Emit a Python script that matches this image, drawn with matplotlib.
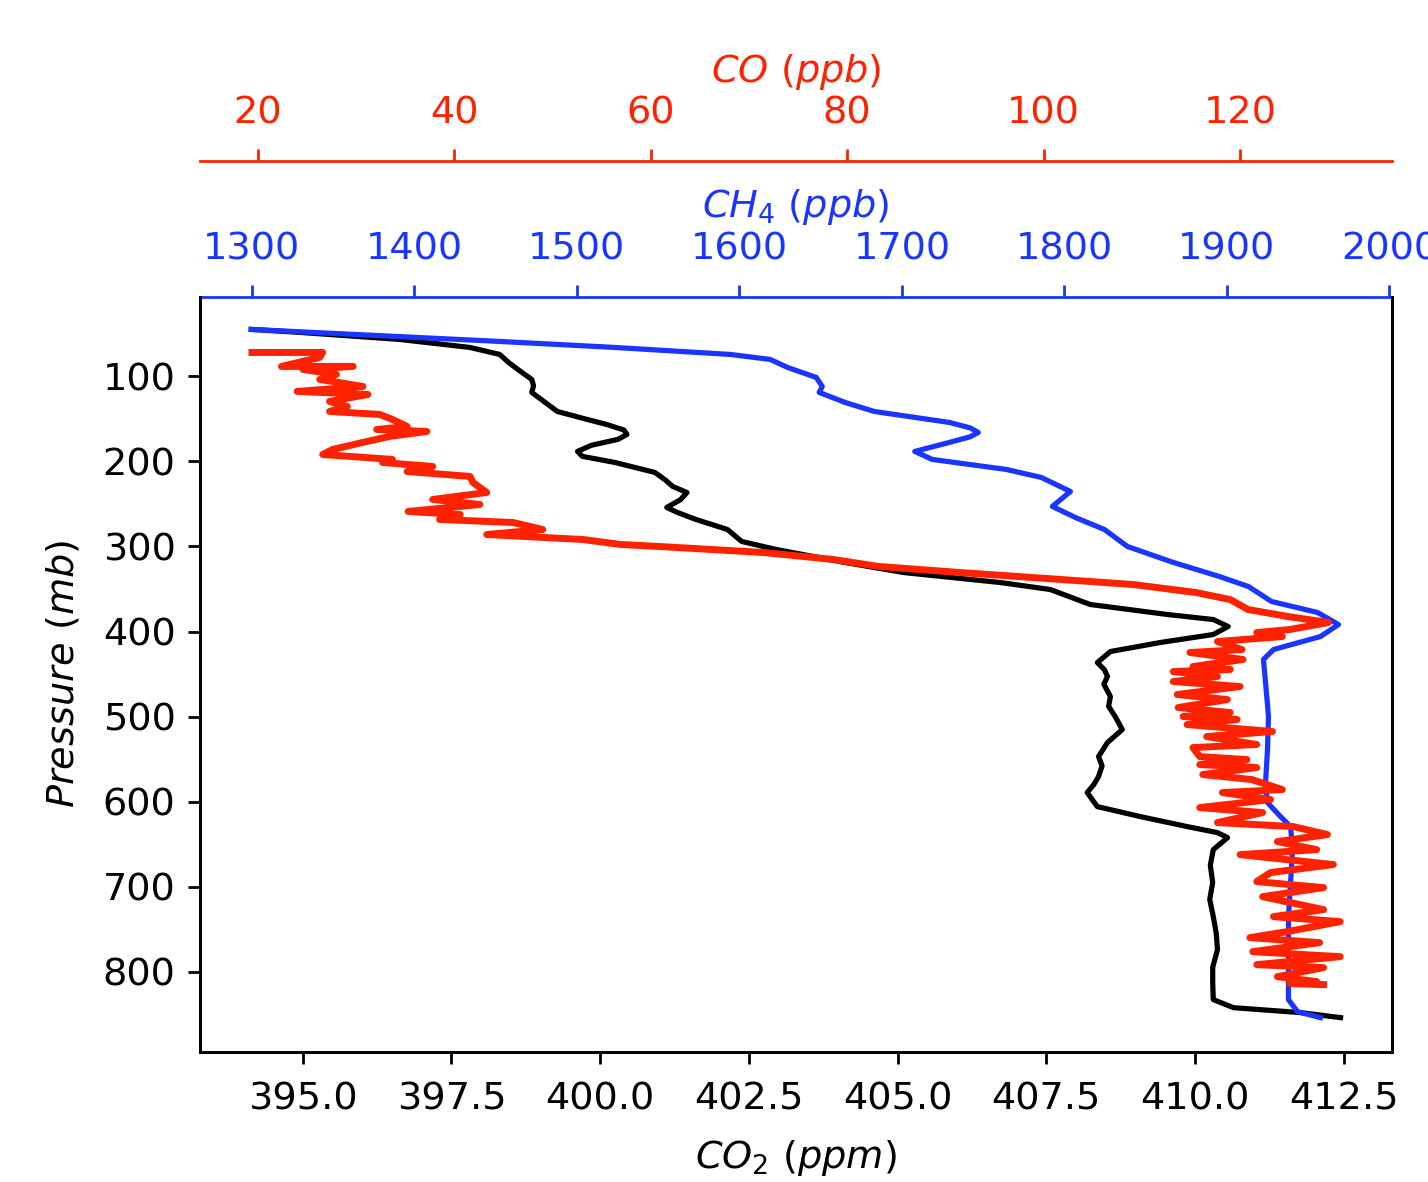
import matplotlib
matplotlib.use("Agg")
import matplotlib.pyplot as plt

# CO2 profile (ppm) vs pressure (mb)
co2 = [394.14, 394.95, 396.63, 397.81, 398.31, 398.46, 398.62, 398.85, 398.88, 398.85,
       399.28, 399.75, 400.11, 400.40, 400.45, 400.30, 399.85, 399.62, 399.70, 400.25,
       400.92, 401.10, 401.22, 401.46, 401.35, 401.12, 401.30, 401.61, 402.14, 402.38,
       402.96, 404.12, 405.10, 406.73, 407.57, 408.24, 409.54, 410.31, 410.56, 410.31,
       409.42, 408.58, 408.36, 408.48, 408.53, 408.47, 408.58, 408.55, 408.66, 408.78,
       408.53, 408.38, 408.44, 408.38, 408.30, 408.19, 408.36, 409.08, 409.87, 410.38,
       410.55, 410.31, 410.26, 410.30, 410.25, 410.31, 410.36, 410.38, 410.30, 410.30,
       410.31, 410.65, 411.78, 412.45]
p_co2 = [44.7, 48.2, 56.5, 65.9, 74.1, 83.5, 92.0, 103.5, 111.0, 118.8,
         141.2, 150.0, 156.5, 163.0, 168.2, 174.0, 181.0, 188.2, 194.0, 201.2,
         212.9, 222.0, 229.4, 236.5, 245.0, 254.1, 260.0, 268.2, 280.0, 294.1,
         303.5, 318.8, 330.6, 342.4, 350.6, 368.2, 380.0, 385.9, 394.1, 403.5,
         412.9, 423.5, 436.5, 445.0, 452.9, 462.0, 476.5, 488.0, 500.0, 515.3,
         530.6, 547.1, 558.0, 570.6, 580.0, 589.4, 605.9, 617.6, 629.4, 636.5,
         642.4, 656.5, 675.0, 695.3, 715.0, 735.3, 755.0, 774.1, 795.0, 812.9,
         832.9, 842.4, 848.2, 854.1]

# CH4 profile (ppb)
ch4 = [1299.4, 1452.1, 1523.3, 1594.2, 1619.0, 1629.6, 1647.3, 1651.0, 1649.1, 1665.1,
       1683.0, 1729.2, 1742.0, 1747.0, 1742.0, 1729.2, 1707.9, 1718.7, 1764.3, 1785.8,
       1803.7, 1792.6, 1806.8, 1824.6, 1838.8, 1867.1, 1895.4, 1913.3, 1927.5, 1955.8,
       1968.7, 1957.6, 1928.7, 1922.5, 1923.8, 1925.6, 1925.0, 1923.8, 1925.0, 1933.0,
       1939.2, 1940.4, 1939.2, 1937.9, 1937.9, 1937.9, 1943.5, 1957.6]
p_ch4 = [44.7, 58.8, 65.9, 74.1, 80.0, 89.4, 101.2, 111.8, 118.8, 130.6,
         141.2, 154.1, 160.5, 165.9, 171.0, 177.6, 188.2, 197.6, 209.4, 218.8,
         235.3, 252.9, 265.9, 280.0, 300.0, 318.8, 335.3, 347.1, 364.7, 377.6,
         391.8, 405.9, 421.2, 432.9, 460.0, 500.0, 538.8, 577.6, 601.2, 617.6,
         629.4, 656.5, 695.3, 735.3, 774.1, 832.9, 847.1, 854.1]

# CO profile (ppb)
co = [19.4, 26.6, 26.3, 22.4, 29.7, 24.6, 28.0, 26.3, 30.7, 24.0,
      31.2, 27.3, 29.1, 27.3, 32.4, 33.7, 35.2, 32.1, 37.2, 33.4,
      30.7, 27.6, 26.6, 29.4, 33.7, 32.7, 37.8, 35.2, 41.6, 41.9,
      43.3, 37.8, 42.6, 35.3, 40.6, 38.5, 46.0, 49.0, 43.3, 53.1,
      56.9, 60.9, 71.5, 78.6, 83.2, 91.5, 97.4, 109.1, 115.5, 119.0,
      120.8, 124.9, 129.0, 125.1, 121.7, 124.3, 117.7, 120.2, 114.9, 120.3,
      115.2, 119.0, 113.2, 117.7, 113.2, 120.0, 113.6, 118.7, 113.7, 119.0,
      114.2, 119.7, 114.6, 123.3, 116.6, 121.7, 115.2, 115.9, 120.7, 115.9,
      121.7, 116.2, 121.2, 124.3, 118.2, 123.1, 115.9, 122.3, 117.7, 125.4,
      128.9, 123.8, 127.8, 120.0, 129.5, 123.1, 121.7, 128.5, 122.3, 128.5,
      123.4, 130.2, 124.8, 121.0, 128.1, 121.3, 130.2, 121.7, 128.5, 123.8,
      127.8, 125.1, 128.5]
p_co = [71.8, 71.8, 77.6, 88.2, 88.2, 91.8, 97.6, 103.5, 111.8, 117.6,
        121.2, 129.4, 135.3, 141.2, 144.7, 150.6, 158.8, 162.4, 164.7, 170.6,
        177.6, 185.9, 191.8, 194.1, 197.6, 201.2, 205.9, 211.8, 217.6, 224.7,
        236.5, 244.7, 250.6, 258.8, 262.4, 268.2, 271.8, 280.0, 285.9, 291.8,
        297.6, 300.0, 307.1, 315.3, 323.5, 330.6, 335.3, 344.7, 354.1, 362.4,
        374.1, 382.4, 389.4, 397.6, 401.2, 405.9, 411.8, 421.2, 424.7, 432.9,
        441.2, 444.7, 447.1, 452.9, 458.8, 464.7, 474.1, 480.0, 489.4, 495.3,
        500.0, 503.5, 509.4, 517.6, 523.5, 532.9, 536.5, 547.1, 550.6, 556.5,
        560.0, 568.2, 574.1, 585.9, 589.4, 597.6, 607.1, 612.9, 624.7, 629.4,
        638.8, 647.1, 656.5, 662.4, 674.1, 683.5, 694.1, 701.2, 711.8, 727.1,
        735.3, 741.2, 752.9, 760.0, 765.9, 776.5, 782.4, 791.8, 795.3, 805.9,
        811.8, 814.1, 815.3]

red = '#ff2200'
blue = '#1a35ff'

plt.rcParams['font.size'] = 11

fig = plt.figure(figsize=(1428 / 250, 1182 / 250), dpi=250)
ax = fig.add_axes([0.140, 0.110, 0.835, 0.639])
ax.plot(co2, p_co2, color='black', lw=1.5)
ax.set_xlim(393.27, 413.32)
ax.set_ylim(894.5, 6.2)
ax.tick_params(axis='x', pad=5)
ax.set_xlabel(r'$CO_2\ (ppm)$', labelpad=6)
ax.set_ylabel(r'$Pressure\ (mb)$', labelpad=6)
ax.spines['top'].set_visible(False)

# CH4 axis on top
ax2 = ax.twiny()
ax2.plot(ch4, p_ch4, color=blue, lw=1.5)
ax2.set_xlim(1268.0, 2001.8)
ax2.set_xlabel(r'$CH_4\ (ppb)$', color=blue)
ax2.tick_params(axis='x', colors=blue, pad=5)
ax2.spines['top'].set_color(blue)

# CO axis, offset above
ax3 = ax.twiny()
ax3.spines['top'].set_position(('axes', 1.179))
ax3.plot(co, p_co, color=red, lw=2)
ax3.set_xlim(14.1, 135.5)
ax3.set_xlabel(r'$CO\ (ppb)$', color=red)
ax3.tick_params(axis='x', colors=red, pad=5)
ax3.spines['top'].set_color(red)

fig.savefig('out.png', dpi=250)
